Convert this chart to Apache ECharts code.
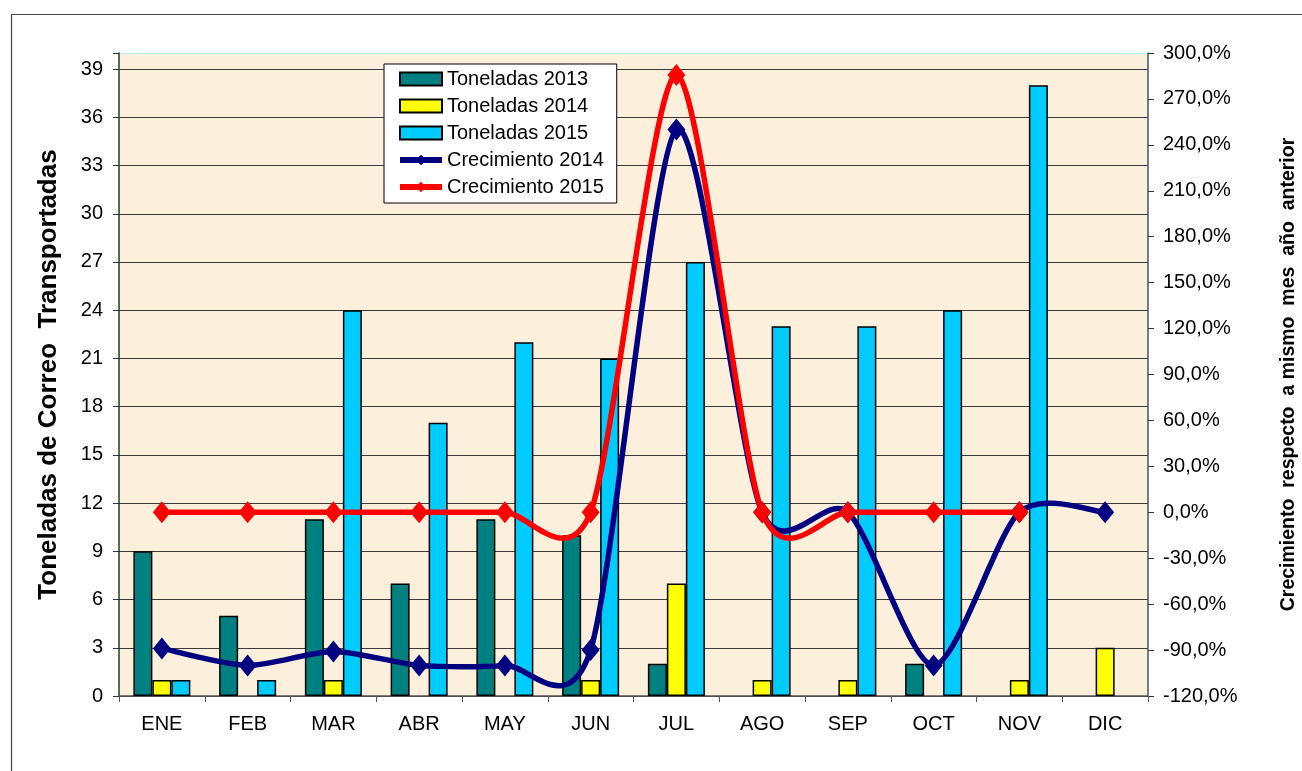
<!DOCTYPE html>
<html>
<head>
  <meta charset="UTF-8">
  <title>Toneladas de Correo</title>
  <script src="https://cdn.jsdelivr.net/npm/echarts@6/dist/echarts.min.js"></script>
  <style>
    html, body { margin: 0; padding: 0; background: #fff; }
  </style>
</head>
<body>
<div id="main" style="width: 1302px; height: 771px;"></div>

<script type="text/javascript">
  // meses
  var meses = ['ENE', 'FEB', 'MAR', 'ABR', 'MAY', 'JUN', 'JUL', 'AGO', 'SEP', 'OCT', 'NOV', 'DIC'];

  // toneladas por año (null = sin barra)
  var ton2013 = [9, 5, 11, 7, 11, 10, 2, null, null, 2, null, null];
  var ton2014 = [1, null, 1, null, null, 1, 7, 1, 1, null, 1, 3];
  var ton2015 = [1, 1, 24, 17, 22, 21, 27, 23, 23, 24, 38, null];

  // crecimiento respecto a mismo mes año anterior (%)
  var crec2014 = [-88.9, -100, -90.9, -100, -100, -90, 250, 0, 0, -100, 0, 0];
  var crec2015 = [0, 0, 0, 0, 0, 0, 285.7, 0, 0, 0, 0, null];

  var myChart = echarts.init(document.getElementById('main'));

  // lineas de la grilla: todas oscuras, la de arriba celeste
  var gridColors = [];
  for (var i = 0; i < 14; i++) gridColors.push('#3a3a3a');
  gridColors.push('#b8f0f0');

  var barBorder = { borderColor: '#000', borderWidth: 1.5 };
  var tension = 7.5;

  // curva suavizada tipo Excel (catmull-rom), un tramo por cada punto
  function curva(valores, color) {
    return {
      type: 'custom',
      yAxisIndex: 1,
      z: 4,
      silent: true,
      data: valores.map(function (v, i) { return [i, v]; }),
      renderItem: function (params, api) {
        var i = params.dataIndex;
        if (valores[i] == null || valores[i + 1] == null) return null;
        var p = function (k) {
          if (k < 0 || valores[k] == null) return null;
          return api.coord([k, valores[k]]);
        };
        var p1 = p(i), p2 = p(i + 1);
        var p0 = p(i - 1) || p1;
        var p3 = (i + 2 < valores.length ? p(i + 2) : null) || p2;
        return {
          type: 'bezierCurve',
          shape: {
            x1: p1[0], y1: p1[1],
            x2: p2[0], y2: p2[1],
            cpx1: p1[0] + (p2[0] - p0[0]) / tension,
            cpy1: p1[1] + (p2[1] - p0[1]) / tension,
            cpx2: p2[0] - (p3[0] - p1[0]) / tension,
            cpy2: p2[1] - (p3[1] - p1[1]) / tension
          },
          style: { stroke: color, lineWidth: 5.5, fill: null, lineCap: 'round' }
        };
      }
    };
  }

  var option = {
    backgroundColor: '#fff',
    textStyle: { fontFamily: 'Liberation Sans, Arial, sans-serif' },
    graphic: [{
      type: 'rect',
      left: 9, top: 12,
      shape: { width: 1300, height: 770 },
      style: { fill: 'none', stroke: '#444', lineWidth: 1.2 },
      silent: true
    }],
    grid: {
      left: 119,
      right: 154,
      top: 53,
      bottom: 75,
      outerBoundsMode: 'none',
      show: true,
      backgroundColor: '#fcf0dc',
      borderWidth: 0
    },
    legend: {
      orient: 'vertical',
      left: 384,
      top: 64,
      padding: [5, 13, 6, 13],
      itemGap: 7,
      itemWidth: 42,
      itemHeight: 13,
      backgroundColor: '#fff',
      borderColor: '#000',
      borderWidth: 1,
      textStyle: { fontSize: 20, color: '#000' },
      data: [
        { name: 'Toneladas 2013', icon: 'rect' },
        { name: 'Toneladas 2014', icon: 'rect' },
        { name: 'Toneladas 2015', icon: 'rect' },
        { name: 'Crecimiento 2014', lineStyle: { color: '#000080', width: 6, opacity: 1 } },
        { name: 'Crecimiento 2015', lineStyle: { color: '#ff0000', width: 6, opacity: 1 } }
      ]
    },
    xAxis: {
      type: 'category',
      data: meses,
      boundaryGap: true,
      axisLine: { lineStyle: { color: '#555', width: 1.5 } },
      axisTick: { show: true, length: 6, lineStyle: { color: '#555' } },
      axisLabel: { fontSize: 20, color: '#000', margin: 18 }
    },
    yAxis: [
      {
        type: 'value',
        min: 0,
        max: 40,
        interval: 3,
        name: 'Toneladas de Correo  Transportadas',
        nameLocation: 'middle',
        nameRotate: 90,
        nameGap: 57,
        nameTextStyle: { fontSize: 26, fontWeight: 'bold', color: '#000' },
        axisLine: { show: true, lineStyle: { color: '#1e3c3c', width: 1.5 } },
        axisTick: { show: true, length: 6, lineStyle: { color: '#333' } },
        axisLabel: {
          fontSize: 20, color: '#000', margin: 16,
          formatter: function (v) { return v === 40 ? '' : v; }
        },
        splitLine: { show: true, lineStyle: { color: gridColors, width: 1.2 } }
      },
      {
        type: 'value',
        position: 'right',
        min: -120,
        max: 300,
        interval: 30,
        name: 'Crecimiento  respecto  a mismo  mes  año  anterior',
        nameLocation: 'middle',
        nameRotate: 90,
        nameGap: 131,
        nameTextStyle: { fontSize: 19.5, fontWeight: 'bold', color: '#000' },
        axisLine: { show: true, lineStyle: { color: '#3c5a5a', width: 1.5 } },
        axisTick: { show: true, length: 6, lineStyle: { color: '#333' } },
        axisLabel: {
          fontSize: 20, color: '#000', margin: 15,
          formatter: function (v) { return v.toFixed(1).replace('.', ',') + '%'; }
        },
        splitLine: { show: false }
      }
    ],
    series: [
      {
        name: 'Toneladas 2013',
        type: 'bar',
        barWidth: 19,
        barGap: '0%',
        itemStyle: Object.assign({ color: '#008080' }, barBorder),
        data: ton2013
      },
      {
        name: 'Toneladas 2014',
        type: 'bar',
        barWidth: 19,
        barGap: '0%',
        itemStyle: Object.assign({ color: '#ffff00' }, barBorder),
        data: ton2014
      },
      {
        name: 'Toneladas 2015',
        type: 'bar',
        barWidth: 19,
        barGap: '0%',
        itemStyle: Object.assign({ color: '#00ccff' }, barBorder),
        data: ton2015
      },
      curva(crec2014, '#000080'),
      curva(crec2015, '#ff0000'),
      {
        name: 'Crecimiento 2014',
        type: 'line',
        yAxisIndex: 1,
        symbol: 'diamond',
        symbolSize: [18, 22],
        lineStyle: { color: '#000080', width: 5, opacity: 0 },
        itemStyle: { color: '#000080' },
        data: crec2014,
        z: 5
      },
      {
        name: 'Crecimiento 2015',
        type: 'line',
        yAxisIndex: 1,
        symbol: 'diamond',
        symbolSize: [18, 22],
        lineStyle: { color: '#ff0000', width: 5, opacity: 0 },
        itemStyle: { color: '#ff0000' },
        data: crec2015,
        z: 6
      }
    ]
  };

  myChart.setOption(option);
</script>
</body>
</html>
